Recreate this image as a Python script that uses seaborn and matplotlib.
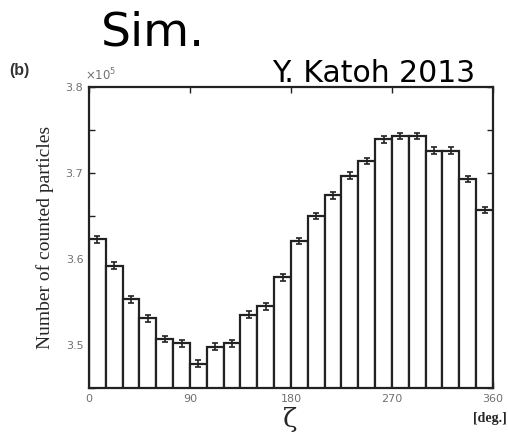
import numpy as np
import pandas as pd
import matplotlib
matplotlib.use("Agg")
import matplotlib.pyplot as plt
import matplotlib.ticker as mticker
import seaborn as sns

# Data (zeta bins of 15 degrees, counts)
bin_edges_deg = [0, 15, 30, 45, 60, 75, 90, 105, 120, 135, 150, 165, 180,
                 195, 210, 225, 240, 255, 270, 285, 300, 315, 330, 345, 360]
counts = [3.623, 3.592, 3.553, 3.531, 3.507, 3.502, 3.478, 3.498, 3.502,
          3.535, 3.545, 3.579, 3.621, 3.650, 3.674, 3.697, 3.714, 3.739,
          3.743, 3.743, 3.726, 3.726, 3.693, 3.657]
errors = [0.004] * 24
xticks = [0, 90, 180, 270, 360]
yticks_major = [3.5, 3.6, 3.7, 3.8]

scale = 1e5
edges = np.array(bin_edges_deg, dtype=float)
centers = (edges[:-1] + edges[1:]) / 2
vals = np.array(counts) * scale
errs = np.array(errors) * scale
df = pd.DataFrame({"zeta": centers, "count": vals})

sns.set_style("ticks")
fig = plt.figure(figsize=(5.08, 4.34), dpi=100)
ax = fig.add_axes([0.175, 0.106, 0.7955, 0.6935])

sns.histplot(data=df, x="zeta", weights="count", bins=list(bin_edges_deg),
             ax=ax, color="white", edgecolor="#222222", linewidth=1.6,
             alpha=1)
ax.errorbar(centers, vals, yerr=errs, fmt="none", ecolor="#222222",
            elinewidth=1.2, capsize=2.5, capthick=1.2)

ax.set_xlim(0, 360)
ax.set_ylim(3.45 * scale, 3.8 * scale)
ax.set_xticks(xticks)
ax.set_yticks([v * scale for v in yticks_major])
ax.yaxis.set_minor_locator(mticker.MultipleLocator(0.05 * scale))
ax.set_yticklabels([f"{v:.1f}" for v in yticks_major])
for s in ax.spines.values():
    s.set_linewidth(1.6)
    s.set_color("#222222")
ax.tick_params(which="both", direction="in", top=True, right=True,
               length=4, width=1.0, labelsize=8, labelcolor="#707070",
               color="#222222", pad=4)
ax.tick_params(which="minor", length=4)
ax.set_xlabel("")
ax.set_ylabel("Number of counted particles", family="Liberation Serif",
              fontsize=14, labelpad=8)

fig.text(0.167, 0.816, r"$\times10^5$", fontsize=8.5, color="#707070")
fig.text(0.571, 0.005, "ζ", ha="center", va="bottom",
         family="DejaVu Serif", fontsize=19)
fig.text(0.997, 0.035, "[deg.]", ha="right", va="center",
         family="Liberation Serif", fontsize=10, weight="bold")
fig.text(0.018, 0.838, "(b)", ha="left", va="center",
         family="Liberation Sans", fontsize=11.5, weight="bold",
         color="#333333")
fig.text(0.302, 0.896, "Sim.", ha="center", va="baseline",
         family="DejaVu Sans", fontsize=34, color="black")
fig.text(0.736, 0.811, "Y. Katoh 2013", ha="center", va="baseline",
         family="DejaVu Sans", fontsize=21.5, color="black")

fig.savefig("out.png", dpi=100)
